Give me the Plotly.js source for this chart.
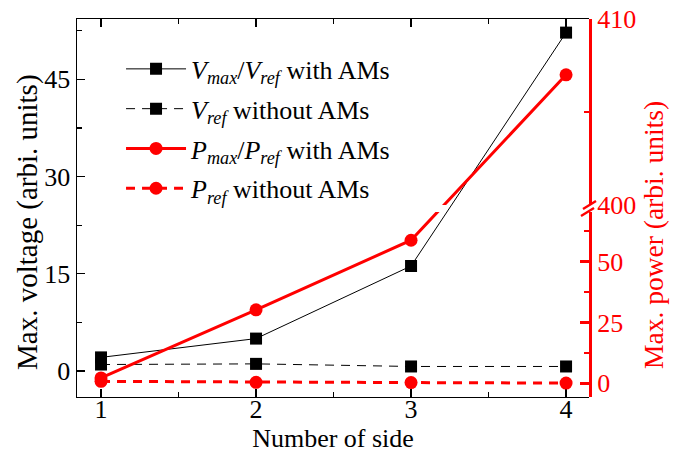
<!DOCTYPE html>
<html>
<head>
<meta charset="utf-8">
<script src="https://cdn.plot.ly/plotly-3.0.1.min.js"></script>
<style>html,body{margin:0;padding:0;background:#fff;}</style>
</head>
<body>
<div id="chart" style="width:678px;height:453px;"></div>
<script>
// ---- data ----
const sides = [1, 2, 3, 4];
const xTickLabels = ['1', '2', '3', '4'];
const vWithAMs = [2.1, 5.0, 16.2, 52.2];      // left axis
const vRefWithout = [1.0, 1.1, 0.7, 0.7];     // left axis
const pWithAMs = [2.2, 30.2, 58.8, 407.0];    // right (broken) axis
const pRefWithout = [0.8, 0.4, 0.3, 0.1];     // right (broken) axis
const seriesNames = [
  '<i>V</i><sub><i>max</i></sub>/<i>V</i><sub><i>ref</i></sub> with AMs',
  '<i>V</i><sub><i>ref</i></sub> without AMs',
  '<i>P</i><sub><i>max</i></sub>/<i>P</i><sub><i>ref</i></sub> with AMs',
  '<i>P</i><sub><i>ref</i></sub> without AMs'
];
const leftTitle = 'Max. voltage (arbi. units)';
const rightTitle = 'Max. power (arbi. units)';
const xTitle = 'Number of side';

// ---- broken right axis: two stacked segments ----
const lowRange = [-5.63, 70.4], lowDomain = [0, 0.4894];
const highRange = [400, 410], highDomain = [0.5079, 1];
const breakValue = 200;
function toFrac(v) {
  const r = v < breakValue ? lowRange : highRange;
  const d = v < breakValue ? lowDomain : highDomain;
  return d[0] + (v - r[0]) / (r[1] - r[0]) * (d[1] - d[0]);
}
function fracToAxis(f, r, d) {
  return r[0] + (f - d[0]) / (d[1] - d[0]) * (r[1] - r[0]);
}
const onLow = arr => arr.map(v => fracToAxis(toFrac(v), lowRange, lowDomain));
const onHigh = arr => arr.map(v => fracToAxis(toFrac(v), highRange, highDomain));

const FONT = 'Liberation Serif';
const RED = '#ff0000';
const dashPat = '9px,7px';

const traces = [
  {x: sides, y: vWithAMs, name: seriesNames[0], yaxis: 'y', mode: 'lines+markers',
   line: {color: '#000', width: 1}, marker: {symbol: 'square', size: 12, color: '#000'}, legendgroup: 'a'},
  {x: sides, y: vRefWithout, name: seriesNames[1], yaxis: 'y', mode: 'lines+markers',
   line: {color: '#000', width: 1, dash: dashPat}, marker: {symbol: 'square', size: 12, color: '#000'}, legendgroup: 'b'},
  {x: sides, y: onLow(pWithAMs), name: seriesNames[2], yaxis: 'y2', mode: 'lines+markers',
   line: {color: RED, width: 3}, marker: {symbol: 'circle', size: 13, color: RED}, legendgroup: 'c'},
  {x: sides, y: onLow(pRefWithout), name: seriesNames[3], yaxis: 'y2', mode: 'lines+markers',
   line: {color: RED, width: 3, dash: dashPat}, marker: {symbol: 'circle', size: 13, color: RED}, legendgroup: 'd'},
  {x: sides, y: onHigh(pWithAMs), name: seriesNames[2], yaxis: 'y3', mode: 'lines+markers', showlegend: false,
   line: {color: RED, width: 3}, marker: {symbol: 'circle', size: 13, color: RED}, legendgroup: 'c'}
];

// pixel helpers for decorations (plot area 77..589 x 19..397)
const PL = 77, PR = 589, PT = 19, PB = 397;
const px = x => (x - PL) / (PR - PL);
const py = y => (PB - y) / (PB - PT);

const layout = {
  width: 678, height: 453,
  margin: {l: PL, r: 678 - PR, t: PT, b: 453 - PB, pad: 0},
  paper_bgcolor: '#fff', plot_bgcolor: 'rgba(0,0,0,0)',
  font: {family: FONT, size: 26, color: '#000'},
  showlegend: true,
  legend: {x: 0.086, y: 0.93, xanchor: 'left', yanchor: 'top', bgcolor: 'rgba(0,0,0,0)',
           font: {family: FONT, size: 26, color: '#000'}, tracegroupgap: 3, itemwidth: 60},
  xaxis: {range: [0.845, 4.148], tickmode: 'array', tickvals: sides, ticktext: xTickLabels,
          ticks: 'inside', ticklen: 8, tickwidth: 1.3, tickcolor: '#000', ticklabelstandoff: -12,
          minor: {dtick: 0.5, tick0: 0, ticks: 'inside', ticklen: 5, tickwidth: 1.3, tickcolor: '#000'},
          showline: true, linecolor: '#000', linewidth: 1.3, mirror: 'ticks',
          showgrid: false, zeroline: false, anchor: 'y',
          tickfont: {family: FONT, size: 26, color: '#000'},
          title: {text: xTitle, font: {family: FONT, size: 26, color: '#000'}, standoff: 6}},
  yaxis: {range: [-4.01, 54.3], tick0: 0, dtick: 15, tickmode: 'linear',
          ticks: 'inside', ticklen: 8, tickwidth: 1.3, tickcolor: '#000',
          minor: {dtick: 7.5, ticks: 'inside', ticklen: 5, tickwidth: 1.3, tickcolor: '#000'},
          showline: true, linecolor: '#000', linewidth: 1.5,
          showgrid: false, zeroline: false, anchor: 'x',
          tickfont: {family: FONT, size: 26, color: '#000'}},
  yaxis2: {domain: lowDomain, range: lowRange, anchor: 'x', side: 'right',
           tickmode: 'linear', tick0: 0, dtick: 25,
           ticks: 'inside', ticklen: 9, tickwidth: 2.5, tickcolor: RED,
           minor: {dtick: 12.5, ticks: 'inside', ticklen: 5, tickwidth: 2.5, tickcolor: RED},
           showline: true, linecolor: RED, linewidth: 3,
           showgrid: false, zeroline: false,
           tickfont: {family: FONT, size: 26, color: RED}},
  yaxis3: {domain: highDomain, range: highRange, anchor: 'x', side: 'right',
           tickmode: 'linear', tick0: 400, dtick: 10,
           ticks: 'inside', ticklen: 9, tickwidth: 2.5, tickcolor: RED,
           minor: {dtick: 5, ticks: 'inside', ticklen: 5, tickwidth: 2.5, tickcolor: RED},
           showline: true, linecolor: RED, linewidth: 3,
           showgrid: false, zeroline: false,
           tickfont: {family: FONT, size: 26, color: RED}},
  annotations: [
    {text: leftTitle, xref: 'paper', yref: 'paper', x: px(28), y: py(222), textangle: -90,
     xanchor: 'center', yanchor: 'middle', showarrow: false, font: {family: FONT, size: 29, color: '#000'}},
    {text: rightTitle, xref: 'paper', yref: 'paper', x: px(653), y: py(235), textangle: -90,
     xanchor: 'center', yanchor: 'middle', showarrow: false, font: {family: FONT, size: 27.5, color: RED}}
  ],
  shapes: [
    {type: 'line', xref: 'paper', yref: 'paper', x0: px(583), y0: py(209), x1: px(596), y1: py(201),
     line: {color: RED, width: 2.5}},
    {type: 'line', xref: 'paper', yref: 'paper', x0: px(581), y0: py(216), x1: px(594), y1: py(208),
     line: {color: RED, width: 2.5}}
  ]
};

Plotly.newPlot('chart', traces, layout, {staticPlot: true, displayModeBar: false});
</script>
</body>
</html>
